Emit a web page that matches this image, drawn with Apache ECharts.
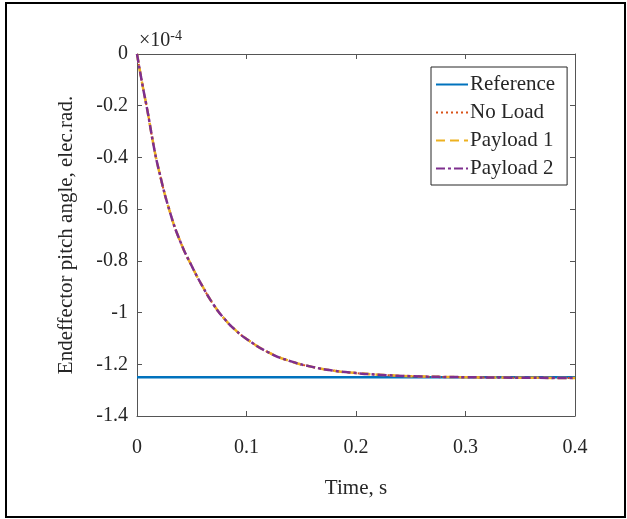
<!DOCTYPE html>
<html>
<head>
<meta charset="utf-8">
<script src="https://cdn.jsdelivr.net/npm/echarts@6/dist/echarts.min.js"></script>
<style>
html,body{margin:0;padding:0;background:#fff;}
#main{width:627px;height:519px;}
</style>
</head>
<body>
<div id="main"></div>
<script>
// Data (pitch angle in units of 1e-4 elec.rad.)
var time = [0, 0.005, 0.01, 0.015, 0.02, 0.03, 0.04, 0.05, 0.06, 0.07, 0.08, 0.09, 0.1, 0.12, 0.14, 0.16, 0.18, 0.2, 0.22, 0.25, 0.3, 0.35, 0.4];
var noLoad   = [0, -0.12, -0.23, -0.35, -0.45, -0.61, -0.73, -0.82, -0.90, -0.97, -1.025, -1.068, -1.102, -1.154, -1.188, -1.210, -1.225, -1.234, -1.240, -1.246, -1.250, -1.252, -1.253];
var payload1 = [0, -0.12, -0.23, -0.35, -0.45, -0.61, -0.73, -0.82, -0.90, -0.97, -1.025, -1.068, -1.102, -1.154, -1.188, -1.210, -1.225, -1.234, -1.240, -1.246, -1.250, -1.252, -1.253];
var payload2 = [0, -0.12, -0.23, -0.35, -0.45, -0.61, -0.73, -0.82, -0.90, -0.97, -1.025, -1.068, -1.102, -1.154, -1.188, -1.210, -1.225, -1.234, -1.240, -1.246, -1.250, -1.252, -1.253];
var refTime = [0, 0.4];
var reference = [-1.25, -1.25];
var seriesNames = ['Reference', 'No Load', 'Payload 1', 'Payload 2'];

function pairs(xs, ys) { return xs.map(function (x, i) { return [x, ys[i]]; }); }

var FONT = 'Liberation Serif';
var TXT = '#262626';
var AX = '#555555';
function fmt(v) { return String(+v.toFixed(1)); }
function line() { return {show: true, onZero: false, lineStyle: {color: AX, width: 1}}; }
function tick() { return {show: true, inside: true, length: 5, lineStyle: {color: AX, width: 1}}; }

var chart = echarts.init(document.getElementById('main'), null, {renderer: 'canvas'});
chart.setOption({
  animation: false,
  backgroundColor: '#fff',
  grid: {left: 137, top: 54, right: 52, bottom: 103, containLabel: false},
  xAxis: [
    {
      type: 'value', min: 0, max: 0.4, interval: 0.1, position: 'bottom',
      name: 'Time, s', nameLocation: 'middle', nameGap: 62,
      nameTextStyle: {color: TXT, fontFamily: FONT, fontSize: 21},
      axisLine: line(), axisTick: tick(), splitLine: {show: false},
      axisLabel: {color: TXT, fontFamily: FONT, fontSize: 20, margin: 22, formatter: fmt}
    },
    {
      type: 'value', min: 0, max: 0.4, interval: 0.1, position: 'top',
      axisLine: line(), axisTick: tick(), splitLine: {show: false},
      axisLabel: {show: false}
    }
  ],
  yAxis: [
    {
      type: 'value', min: -1.4, max: 0, interval: 0.2, position: 'left',
      name: 'Endeffector pitch angle, elec.rad.', nameLocation: 'middle', nameGap: 60,
      nameTextStyle: {color: TXT, fontFamily: FONT, fontSize: 21},
      axisLine: line(), axisTick: tick(), splitLine: {show: false},
      axisLabel: {color: TXT, fontFamily: FONT, fontSize: 20, margin: 9, padding: [5, 0, 0, 0], formatter: fmt}
    },
    {
      type: 'value', min: -1.4, max: 0, interval: 0.2, position: 'right',
      axisLine: line(), axisTick: tick(), splitLine: {show: false},
      axisLabel: {show: false}
    }
  ],
  legend: {
    orient: 'vertical', left: 431, top: 67,
    data: seriesNames,
    itemWidth: 32, itemHeight: 14, itemGap: 7,
    padding: [7, 12, 6, 4],
    borderColor: '#262626', borderWidth: 1, backgroundColor: '#fff',
    itemStyle: {opacity: 0},
    textStyle: {color: TXT, fontFamily: FONT, fontSize: 21, padding: [0, 0, 0, -3]}
  },
  graphic: [
    {type: 'rect', shape: {x: 6, y: 3, width: 619, height: 514}, style: {fill: 'none', stroke: '#000', lineWidth: 2}, z: 100},
    {type: 'text', left: 139, top: 29, style: {
      text: '{a|×10}{b|-4}', fill: TXT,
      rich: {a: {fontFamily: FONT, fontSize: 20, fill: TXT, verticalAlign: 'bottom'}, b: {fontFamily: FONT, fontSize: 14, fill: TXT, verticalAlign: 'top', padding: [0, 0, 8, 0]}}
    }}
  ],
  series: [
    {name: 'Reference', type: 'line', symbol: 'none', data: pairs(refTime, reference), lineStyle: {color: '#0072BD', width: 2.5}, itemStyle: {color: '#0072BD'}},
    {name: 'No Load', type: 'line', symbol: 'none', smooth: true, data: pairs(time, noLoad), lineStyle: {color: '#D95319', width: 2, type: [2, 3]}, itemStyle: {color: '#D95319'}},
    {name: 'Payload 1', type: 'line', symbol: 'none', smooth: true, data: pairs(time, payload1), lineStyle: {color: '#EDB120', width: 2.5, type: [9, 5]}, itemStyle: {color: '#EDB120'}},
    {name: 'Payload 2', type: 'line', symbol: 'none', smooth: true, data: pairs(time, payload2), lineStyle: {color: '#7E2F8E', width: 2.5, type: [9, 3, 3, 3]}, itemStyle: {color: '#7E2F8E'}}
  ]
});
</script>
</body>
</html>
